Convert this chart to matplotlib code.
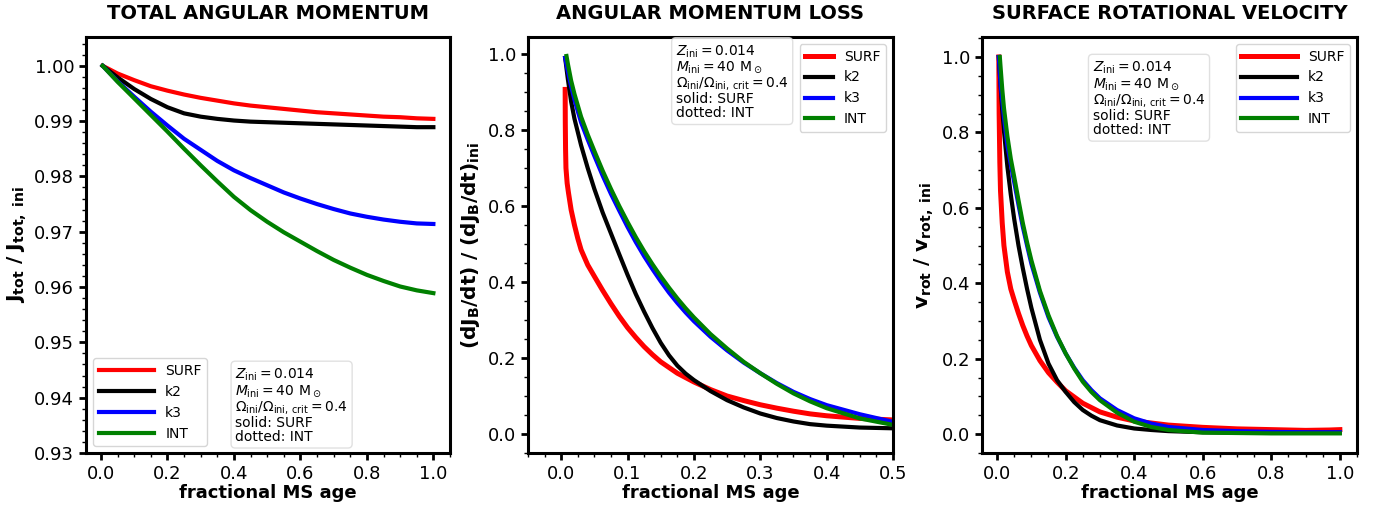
import matplotlib
matplotlib.use("Agg")
import matplotlib.pyplot as plt
from matplotlib.ticker import MultipleLocator, FormatStrFormatter

# ---------------- data ----------------
labels = ["SURF", "k2", "k3", "INT"]
colors = ["red", "black", "blue", "green"]

# Panel 1: total angular momentum
j_x = [0.005, 0.05, 0.1, 0.15, 0.2, 0.25, 0.3, 0.35, 0.4, 0.45, 0.5, 0.55, 0.6, 0.65, 0.7, 0.75, 0.8, 0.85, 0.9, 0.95, 1.0]
j_surf = [1.0, 0.9986, 0.9974, 0.9963, 0.9955, 0.9948, 0.9942, 0.9937, 0.9932, 0.9928, 0.9925, 0.9922, 0.9919, 0.9916, 0.9914, 0.9912, 0.9910, 0.9908, 0.9907, 0.9905, 0.9904]
j_k2 = [1.0, 0.9979, 0.9958, 0.9940, 0.9925, 0.9914, 0.9908, 0.9904, 0.9901, 0.9899, 0.9898, 0.9897, 0.9896, 0.9895, 0.9894, 0.9893, 0.9892, 0.9891, 0.9890, 0.9889, 0.9889]
j_k3 = [1.0, 0.9972, 0.9944, 0.9917, 0.9892, 0.9868, 0.9848, 0.9828, 0.9811, 0.9797, 0.9784, 0.9771, 0.9760, 0.9750, 0.9741, 0.9733, 0.9727, 0.9722, 0.9718, 0.9715, 0.9714]
j_int = [1.0, 0.9971, 0.9941, 0.9911, 0.9881, 0.9850, 0.9820, 0.9791, 0.9763, 0.9739, 0.9718, 0.9699, 0.9682, 0.9665, 0.9649, 0.9635, 0.9622, 0.9611, 0.9601, 0.9594, 0.9589]

# Panel 2: angular momentum loss
l_x_surf = [0.006, 0.0062, 0.0066, 0.0072, 0.009, 0.011, 0.015, 0.02, 0.025, 0.03, 0.04, 0.05, 0.0625, 0.075, 0.0875, 0.1, 0.1125, 0.125, 0.1375, 0.15, 0.175, 0.2, 0.225, 0.25, 0.275, 0.3, 0.325, 0.35, 0.375, 0.4, 0.45, 0.5]
l_surf = [0.907, 0.82, 0.75, 0.70, 0.66, 0.635, 0.59, 0.55, 0.515, 0.485, 0.445, 0.415, 0.378, 0.343, 0.31, 0.28, 0.254, 0.23, 0.209, 0.19, 0.16, 0.137, 0.117, 0.100, 0.088, 0.077, 0.068, 0.060, 0.053, 0.048, 0.041, 0.037]
l_x = [0.006, 0.01, 0.015, 0.02, 0.03, 0.04, 0.05, 0.0625, 0.075, 0.0875, 0.1, 0.1125, 0.125, 0.1375, 0.15, 0.1625, 0.175, 0.1875, 0.2, 0.225, 0.25, 0.275, 0.3, 0.325, 0.35, 0.375, 0.4, 0.45, 0.5]
l_k2 = [0.99, 0.935, 0.875, 0.83, 0.76, 0.70, 0.645, 0.583, 0.528, 0.473, 0.419, 0.368, 0.322, 0.279, 0.240, 0.207, 0.180, 0.159, 0.142, 0.113, 0.089, 0.070, 0.054, 0.042, 0.033, 0.026, 0.022, 0.017, 0.015]
l_k3 = [0.99, 0.955, 0.915, 0.88, 0.82, 0.775, 0.732, 0.68, 0.632, 0.588, 0.545, 0.505, 0.468, 0.434, 0.402, 0.372, 0.345, 0.32, 0.297, 0.256, 0.220, 0.188, 0.160, 0.134, 0.111, 0.092, 0.076, 0.052, 0.032]
l_x_int = [0.008, 0.01, 0.015, 0.02, 0.03, 0.04, 0.05, 0.0625, 0.075, 0.0875, 0.1, 0.1125, 0.125, 0.1375, 0.15, 0.1625, 0.175, 0.1875, 0.2, 0.225, 0.25, 0.275, 0.3, 0.325, 0.35, 0.375, 0.4, 0.45, 0.5]
l_int = [0.995, 0.975, 0.93, 0.895, 0.835, 0.788, 0.745, 0.693, 0.645, 0.60, 0.558, 0.518, 0.481, 0.447, 0.415, 0.385, 0.357, 0.331, 0.307, 0.263, 0.225, 0.190, 0.160, 0.132, 0.107, 0.086, 0.068, 0.041, 0.024]

# Panel 3: surface rotational velocity
v_x_surf = [0.005, 0.006, 0.008, 0.01, 0.015, 0.02, 0.03, 0.04, 0.05, 0.0625, 0.075, 0.0875, 0.1, 0.125, 0.15, 0.175, 0.2, 0.25, 0.3, 0.35, 0.4, 0.5, 0.6, 0.7, 0.8, 0.9, 0.97, 1.0]
v_surf = [1.0, 0.85, 0.72, 0.645, 0.56, 0.50, 0.43, 0.385, 0.355, 0.32, 0.288, 0.26, 0.235, 0.195, 0.163, 0.138, 0.115, 0.082, 0.059, 0.045, 0.035, 0.024, 0.018, 0.014, 0.012, 0.010, 0.011, 0.012]
v_x = [0.005, 0.01, 0.015, 0.02, 0.03, 0.04, 0.05, 0.0625, 0.075, 0.0875, 0.1, 0.125, 0.15, 0.175, 0.2, 0.225, 0.25, 0.275, 0.3, 0.35, 0.4, 0.45, 0.5, 0.6, 0.7, 0.8, 0.9, 1.0]
v_k2 = [1.0, 0.925, 0.86, 0.805, 0.71, 0.635, 0.57, 0.50, 0.44, 0.385, 0.335, 0.25, 0.187, 0.143, 0.112, 0.085, 0.064, 0.049, 0.037, 0.023, 0.015, 0.011, 0.008, 0.005, 0.004, 0.004, 0.004, 0.004]
v_k3 = [1.0, 0.93, 0.885, 0.84, 0.765, 0.715, 0.668, 0.608, 0.55, 0.50, 0.452, 0.375, 0.31, 0.258, 0.214, 0.176, 0.143, 0.117, 0.095, 0.064, 0.042, 0.028, 0.019, 0.011, 0.008, 0.006, 0.005, 0.005]
v_x_int = [0.008, 0.01, 0.015, 0.02, 0.03, 0.04, 0.05, 0.0625, 0.075, 0.0875, 0.1, 0.125, 0.15, 0.175, 0.2, 0.225, 0.25, 0.275, 0.3, 0.35, 0.4, 0.45, 0.5, 0.6, 0.7, 0.8, 0.9, 1.0]
v_int = [1.0, 0.975, 0.915, 0.865, 0.79, 0.73, 0.682, 0.62, 0.56, 0.508, 0.461, 0.38, 0.315, 0.26, 0.214, 0.174, 0.139, 0.112, 0.090, 0.057, 0.033, 0.019, 0.011, 0.004, 0.003, 0.002, 0.002, 0.002]

titles = ["TOTAL ANGULAR MOMENTUM", "ANGULAR MOMENTUM LOSS", "SURFACE ROTATIONAL VELOCITY"]
ylabels = [r"$\mathbf{J_{tot}\ /\ J_{tot,\ ini}}$",
           r"$\mathbf{(dJ_B/dt)\ /\ (dJ_B/dt)_{ini}}$",
           r"$\mathbf{v_{rot}\ /\ v_{rot,\ ini}}$"]
info = (r"$Z_{\rm ini} = 0.014$" + "\n" + r"$M_{\rm ini} = 40\ \mathrm{M}_\odot$" + "\n"
        + r"$\Omega_{\rm ini}/\Omega_{\rm ini,\,crit} = 0.4$" + "\nsolid: SURF\ndotted: INT")

# ---------------- figure ----------------
fig = plt.figure(figsize=(13.77, 5.05), dpi=100)
H = 505.0
W = 1377.0
def pos(l, r):
    return [l / W, 1 - 453 / H, (r - l) / W, (453 - 37) / H]

ax1 = fig.add_axes(pos(86, 450))
ax2 = fig.add_axes(pos(528, 893))
ax3 = fig.add_axes(pos(982, 1357))

def style(ax, title, ylabel):
    for s in ax.spines.values():
        s.set_linewidth(2.2)
    ax.tick_params(which="major", direction="out", length=5, width=2, labelsize=13)
    ax.tick_params(which="minor", direction="out", length=3, width=1)
    ax.set_title(title, fontsize=14, fontweight="bold", pad=13)
    ax.set_xlabel("fractional MS age", fontsize=13, fontweight="bold", labelpad=1)
    ax.set_ylabel(ylabel, fontsize=14.5)

bbox = dict(boxstyle="round,pad=0.3", fc="white", ec="0.85", alpha=0.8)
tkw = dict(fontsize=10, ha="left", linespacing=1.0, bbox=bbox)

# Panel 1
for y, c, lab in zip([j_surf, j_k2, j_k3, j_int], colors, labels):
    ax1.plot(j_x, y, color=c, lw=3, label=lab)
ax1.set_xlim(-0.045, 1.05)
ax1.set_ylim(0.93, 1.0052)
ax1.xaxis.set_major_locator(MultipleLocator(0.2))
ax1.xaxis.set_minor_locator(MultipleLocator(0.05))
ax1.yaxis.set_major_locator(MultipleLocator(0.01))
ax1.yaxis.set_minor_locator(MultipleLocator(0.002))
ax1.yaxis.set_major_formatter(FormatStrFormatter("%.2f"))
style(ax1, titles[0], ylabels[0])
ax1.legend(loc="lower left", fontsize=10, handlelength=4.0)
ax1.text(0.41, 0.022, info, transform=ax1.transAxes, va="bottom", **tkw)

# Panel 2
ax2.plot(l_x_surf, l_surf, color="red", lw=3.6, label="SURF")
ax2.plot(l_x, l_k2, color="black", lw=3, label="k2")
ax2.plot(l_x, l_k3, color="blue", lw=3, label="k3")
ax2.plot(l_x_int, l_int, color="green", lw=3, label="INT")
ax2.set_xlim(-0.05, 0.5)
ax2.set_ylim(-0.05, 1.045)
ax2.xaxis.set_major_locator(MultipleLocator(0.1))
ax2.xaxis.set_minor_locator(MultipleLocator(0.025))
ax2.yaxis.set_major_locator(MultipleLocator(0.2))
ax2.yaxis.set_minor_locator(MultipleLocator(0.05))
style(ax2, titles[1], ylabels[1])
ax2.legend(loc="upper right", fontsize=10, handlelength=2.0)
ax2.text(0.405, 0.985, info, transform=ax2.transAxes, va="top", **tkw)

# Panel 3
ax3.plot(v_x_surf, v_surf, color="red", lw=3.6, label="SURF")
ax3.plot(v_x, v_k2, color="black", lw=3, label="k2")
ax3.plot(v_x, v_k3, color="blue", lw=3, label="k3")
ax3.plot(v_x_int, v_int, color="green", lw=3, label="INT")
ax3.set_xlim(-0.044, 1.05)
ax3.set_ylim(-0.05, 1.053)
ax3.xaxis.set_major_locator(MultipleLocator(0.2))
ax3.xaxis.set_minor_locator(MultipleLocator(0.05))
ax3.yaxis.set_major_locator(MultipleLocator(0.2))
ax3.yaxis.set_minor_locator(MultipleLocator(0.05))
style(ax3, titles[2], ylabels[2])
ax3.legend(loc="upper right", fontsize=10, handlelength=4.0)
ax3.text(0.295, 0.945, info, transform=ax3.transAxes, va="top", **tkw)

fig.savefig("out.png", dpi=100)
